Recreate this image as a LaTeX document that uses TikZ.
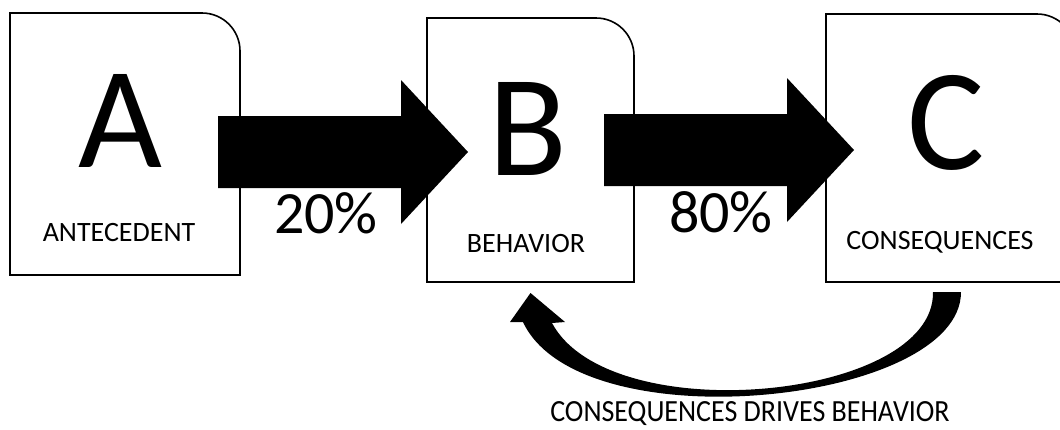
\documentclass[tikz,border=0pt]{standalone}
\usepackage{fontspec}
\setmainfont{Carlito}
\usepackage{tikz}
\usetikzlibrary{calc}

\begin{document}
\begin{tikzpicture}[
      x=1pt, y=-1pt,
      box/.style={inner sep=0pt, outer sep=0pt},
      boxline/.style={line width=1.6pt},
      letter/.style={anchor=base, inner sep=0pt, font=\fontsize{145}{145}\selectfont},
      tag/.style={anchor=base, inner sep=0pt, font=\fontsize{28}{28}\selectfont},
      pct/.style={anchor=base, inner sep=0pt, font=\fontsize{60}{60}\selectfont},
    ]
    \useasboundingbox (0,0) rectangle (1060,429);

    % boxes
    \node[box, minimum width=230pt, minimum height=262pt] (A) at (125,144) {};
    \node[box, minimum width=207pt, minimum height=264pt] (B) at (530.5,150) {};
    \node[box, minimum width=249pt, minimum height=268pt] (C) at (950.5,148) {};
    \foreach \n in {A,B,C}
      \draw[boxline] (\n.south west) -- (\n.north west) -- ([xshift=-38pt]\n.north east)
        arc[start angle=90, end angle=0, radius=38pt] -- (\n.south east) -- cycle;

    % letters and names
    \node[letter] (Aletter) at (120,167) {A};
    \node[letter] (Bletter) at (528,175) {B};
    \node[letter] (Cletter) at (946,169) {C};
    \node[tag] (Aname) at (119,241) {ANTECEDENT};
    \node[tag] (Bname) at (526,252) {BEHAVIOR};
    \node[tag] (Cname) at (940,249) {CONSEQUENCES};

    % block arrows
    \coordinate (ABstart) at (218,152);
    \coordinate (BCstart) at (604,150);
    \foreach \s in {ABstart,BCstart}
      \fill (\s) ++(0,-36) -- ++(183,0) -- ++(0,-36) -- ++(67,72) -- ++(-67,72)
        -- ++(0,-36) -- ++(-183,0) -- cycle;
    \node[pct] (ABpct) at (326,233) {20\%};
    \node[pct] (BCpct) at (721,232) {80\%};

    % feedback arrow C -> B
    \path (C.south) ++(-17.5,10) coordinate (tailin) ++(28,0) coordinate (tailout);
    \path (B.south) ++(0,11) coordinate (tip);
    \fill (tailin) -- (tailout)
      .. controls +(0,112) and +(57,122) .. ($(tip)+(-7.5,29)$)
      -- ++(-13,0) -- (tip) -- ($(tip)+(34.5,29)$) -- ($(tip)+(21.5,30)$)
      .. controls +(58,108) and +(2,108) .. (tailin) -- cycle;
    \node[anchor=base, inner sep=0pt, font=\fontsize{28}{28}\selectfont] (loop) at (750,421)
      {\scalebox{1}[1.1]{CONSEQUENCES DRIVES BEHAVIOR}};
  \end{tikzpicture}
\end{document}
